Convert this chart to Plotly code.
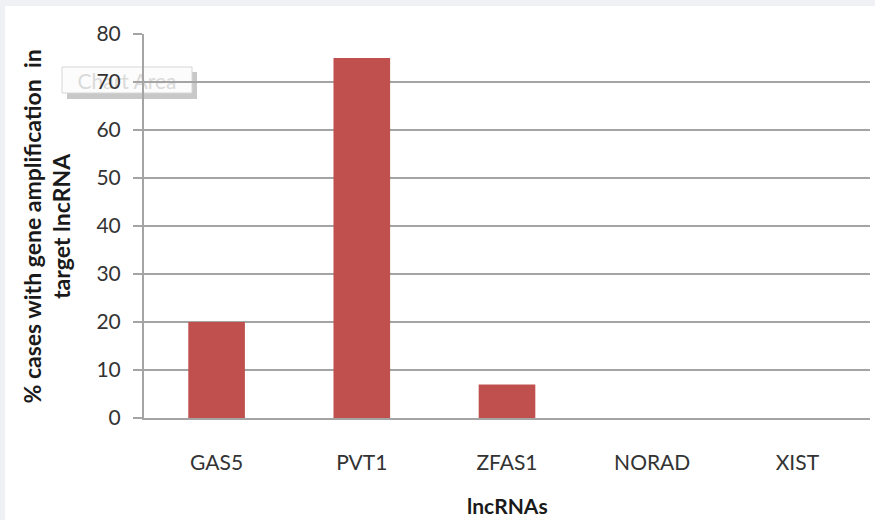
import plotly.graph_objects as go

# Share of cases with gene amplification per lncRNA
lncrnas = ["GAS5", "PVT1", "ZFAS1", "NORAD", "XIST"]
pct_amplified = [20, 75, 7, 0, 0]
y_ticks = [0, 10, 20, 30, 40, 50, 60, 70, 80]

W, H = 875, 520
L, R, T, B = 144, 5, 34, 102
PW, PH = W - L - R, H - T - B


def px_x(p):
    return (p - L) / PW


def px_y(p):
    return (H - B - p) / PH


FONT = "Lato, Carlito, Calibri, sans-serif"
GRID = "#a4a4a4"

fig = go.Figure(
    go.Bar(
        x=lncrnas,
        y=pct_amplified,
        marker=dict(color="#c0504d", line=dict(width=0)),
        width=0.39,
        hoverinfo="x+y",
    )
)

shapes = [
    # white chart area over the grey page frame
    dict(type="rect", xref="paper", yref="paper", layer="below",
         x0=px_x(5), x1=px_x(W + 20), y0=px_y(H + 20), y1=px_y(6),
         fillcolor="white", line=dict(width=0)),
    # "Chart Area" tooltip shadow and box
    dict(type="rect", xref="paper", yref="paper", layer="below",
         x0=px_x(67), x1=px_x(197), y0=px_y(99), y1=px_y(72),
         fillcolor="#9a9a9a", opacity=0.55, line=dict(width=0)),
    dict(type="rect", xref="paper", yref="paper", layer="below",
         x0=px_x(62), x1=px_x(192), y0=px_y(93), y1=px_y(67),
         fillcolor="#fcfcfc", line=dict(color="#d6d6d6", width=1),
         label=dict(text="Chart Area", font=dict(family=FONT, size=21, color="#dadada"),
                    textposition="middle center")),
]

annotations = [
    dict(text="<b>% cases with gene amplification  in<br>target lncRNA</b>",
         xref="paper", yref="paper", x=px_x(46.5), y=px_y(227),
         xanchor="center", yanchor="middle", textangle=-90, showarrow=False,
         font=dict(family=FONT, size=23, color="#1a1a1a")),
    dict(text="<b>lncRNAs</b>",
         xref="paper", yref="paper", x=0.5, y=px_y(505),
         xanchor="center", yanchor="middle", showarrow=False, borderpad=0,
         font=dict(family=FONT, size=21, color="#1a1a1a")),
]

fig.update_layout(
    width=W, height=H,
    margin=dict(l=L, r=R, t=T, b=B),
    paper_bgcolor="#eff1f4",
    plot_bgcolor="white",
    showlegend=False,
    shapes=shapes,
    annotations=annotations,
    xaxis=dict(
        showgrid=False, zeroline=False,
        showline=True, linecolor=GRID, linewidth=2,
        ticks="", ticklabelstandoff=25,
        tickfont=dict(family=FONT, size=21, color="#333333"),
    ),
    yaxis=dict(
        range=[0, 80], tickvals=y_ticks,
        showgrid=True, gridcolor=GRID, gridwidth=2,
        zeroline=False,
        showline=True, linecolor=GRID, linewidth=2,
        ticks="outside", ticklen=9, tickcolor=GRID, tickwidth=2,
        ticklabelstandoff=8,
        tickfont=dict(family=FONT, size=21, color="#333333"),
    ),
)

fig.write_html("out.html")
